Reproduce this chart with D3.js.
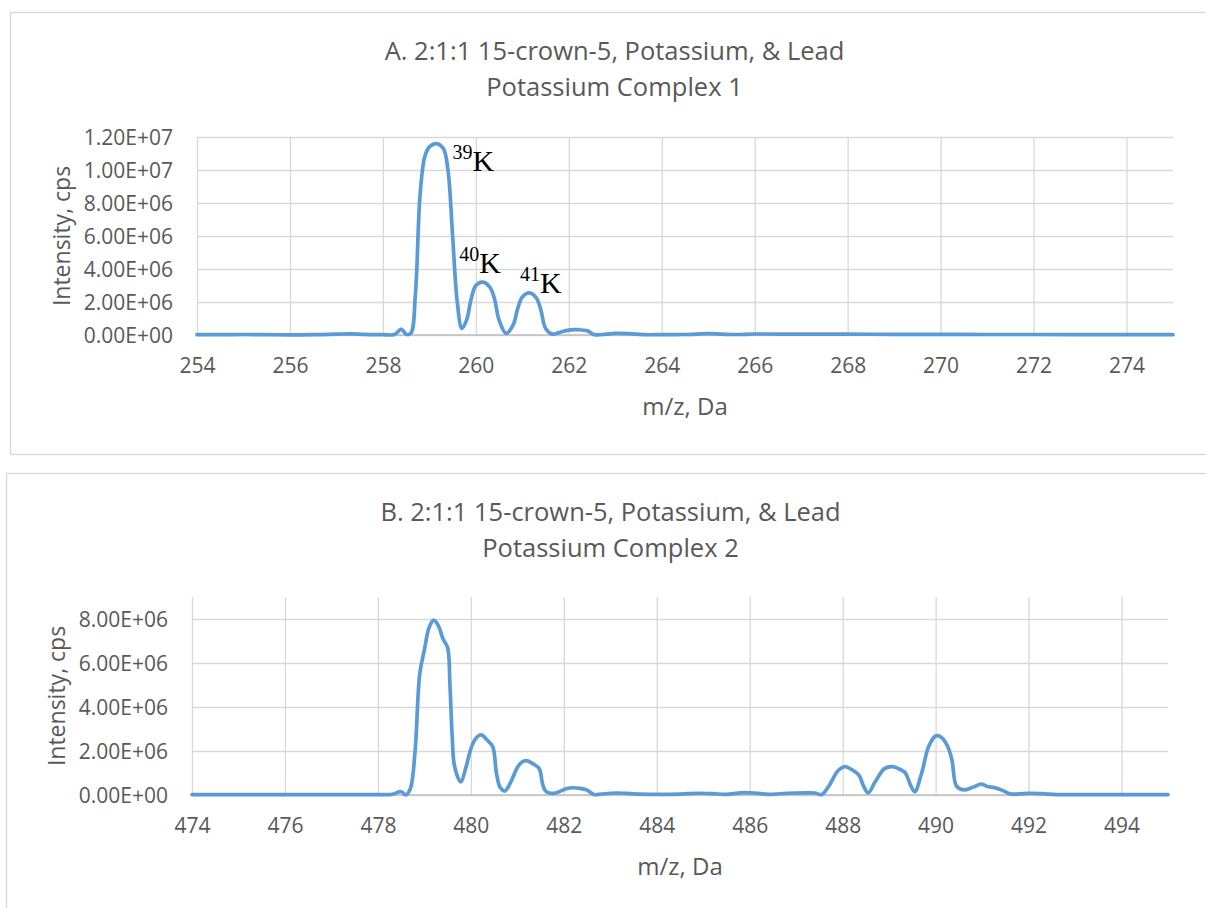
<!DOCTYPE html>
<html>
<head>
<meta charset="utf-8">
<script src="https://cdn.jsdelivr.net/npm/d3@7"></script>
<style>
  body { margin: 0; background: #fff; }
  svg { display: block; }
</style>
</head>
<body>
<svg width="1206" height="908"></svg>
<script>
// panel A: m/z (Da) and intensity (cps)
const mzA = [254.0, 254.5, 255.0, 255.5, 256.0, 256.5, 257.0, 257.3, 257.6, 258.0,
  258.25, 258.4, 258.5, 258.6, 258.7, 258.8, 258.9, 259.0, 259.15, 259.3,
  259.4, 259.5, 259.6, 259.7, 259.8, 259.9, 260.0, 260.15, 260.3, 260.4,
  260.5, 260.65, 260.8, 260.9, 261.0, 261.15, 261.3, 261.4, 261.5, 261.65,
  261.8, 262.0, 262.2, 262.4, 262.55, 262.8, 263.0, 263.3, 263.6, 264.0,
  264.5, 265.0, 265.3, 265.6, 266.0, 267.0, 268.0, 269.0, 270.0, 271.0,
  272.0, 273.0, 274.0, 275.0];
const intA = [2e4, 2e4, 3e4, 2e4, 1e4, 2e4, 5e4, 7e4, 4e4, 2e4,
  3e4, 3.5e5, 5e4, 1e5, 2.5e6, 8.5e6, 1.08e7, 1.14e7, 1.16e7, 1.13e7,
  1.0e7, 6.0e6, 2.0e6, 4e5, 9e5, 2.2e6, 3.0e6, 3.2e6, 2.9e6, 2.2e6,
  9e5, 1e5, 6e5, 1.6e6, 2.3e6, 2.55e6, 2.25e6, 1.5e6, 4e5, 5e4,
  1.5e5, 3e5, 3.2e5, 2.5e5, 2e4, 5e4, 1e5, 8e4, 2e4, 2e4,
  3e4, 8e4, 5e4, 3e4, 6e4, 5e4, 5e4, 4e4, 4e4, 3e4,
  3e4, 2e4, 2e4, 2e4];

// panel B
const mzB = [474.0, 475.0, 476.0, 477.0, 477.5, 478.0, 478.3, 478.5, 478.6, 478.7,
  478.8, 478.9, 479.0, 479.1, 479.2, 479.3, 479.4, 479.5, 479.55, 479.6,
  479.65, 479.78, 479.9, 480.0, 480.1, 480.22, 480.35, 480.47, 480.55, 480.63,
  480.73, 480.85, 481.0, 481.1, 481.2, 481.35, 481.47, 481.55, 481.62, 481.75,
  481.9, 482.05, 482.2, 482.35, 482.5, 482.65, 482.8, 483.0, 483.2, 483.5,
  484.0, 484.5, 484.9, 485.2, 485.5, 485.8, 486.1, 486.4, 486.8, 487.2,
  487.4, 487.55, 487.7, 487.9, 488.05, 488.2, 488.35, 488.45, 488.55, 488.7,
  488.9, 489.07, 489.2, 489.35, 489.45, 489.55, 489.7, 489.85, 490.0, 490.1,
  490.25, 490.35, 490.45, 490.6, 490.8, 490.98, 491.1, 491.3, 491.45, 491.6,
  491.8, 492.0, 492.3, 492.6, 493.0, 494.0, 495.0];
const intB = [2e4, 2e4, 2e4, 2e4, 2e4, 2e4, 3e4, 1.5e5, 0, 3e5,
  2.0e6, 5.5e6, 6.6e6, 7.6e6, 7.95e6, 7.7e6, 7.1e6, 6.7e6, 5.0e6, 2.6e6,
  1.3e6, 6e5, 1.3e6, 2.1e6, 2.55e6, 2.73e6, 2.5e6, 2.2e6, 1.0e6, 3.5e5,
  1.8e5, 5.5e5, 1.25e6, 1.5e6, 1.56e6, 1.4e6, 1.2e6, 4.5e5, 1.5e5, 7e4,
  1.5e5, 2.8e5, 3.3e5, 3.0e5, 2.2e5, 2e4, 4e4, 8e4, 9e4, 5e4,
  3e4, 4e4, 8e4, 6e4, 3e4, 1e5, 9e4, 3e4, 8e4, 1e5,
  9e4, 2e4, 4e5, 1.1e6, 1.29e6, 1.15e6, 9e5, 4e5, 1e5, 6e5,
  1.2e6, 1.29e6, 1.2e6, 1.0e6, 5e5, 1.5e5, 1.0e6, 2.2e6, 2.68e6, 2.65e6,
  2.25e6, 1.6e6, 4e5, 2.3e5, 3.5e5, 5e5, 4e5, 3.2e5, 2e5, 5e4,
  5e4, 8e4, 6e4, 2e4, 2e4, 2e4, 2e4];

const xTicksA = [254, 256, 258, 260, 262, 264, 266, 268, 270, 272, 274];
const yTicksA = [0, 2e6, 4e6, 6e6, 8e6, 1e7, 1.2e7];
const xTicksB = [474, 476, 478, 480, 482, 484, 486, 488, 490, 492, 494];
const yTicksB = [0, 2e6, 4e6, 6e6, 8e6];

// isotope labels: mass number, anchor m/z, anchor intensity
const isoLabels = ['39', '40', '41'];
const isoMz = [259.5, 259.64, 260.95];
const isoInt = [9.96e6, 3.74e6, 2.53e6];

const titlesA = ['A. 2:1:1 15-crown-5, Potassium, & Lead', 'Potassium Complex 1'];
const titlesB = ['B. 2:1:1 15-crown-5, Potassium, & Lead', 'Potassium Complex 2'];

const svg = d3.select('svg');
const textColor = '#595959';
const fontFamily = '"Open Sans", sans-serif';

// 1.20E+07 style, like Excel
const sciFormat = v => {
  const [m, e] = v.toExponential(2).toUpperCase().split('E');
  const sign = e[0] === '-' ? '-' : '+';
  const digits = e.replace(/[+-]/, '').padStart(2, '0');
  return `${m}E${sign}${digits}`;
};

const drawPanel = (props) => {
  const { frame, plot, titles, mz, intensity, xDomain, yDomain, xTicks, yTicks } = props;

  const g = svg.append('g');

  g.append('rect')
    .attr('x', frame.x + 0.5).attr('y', frame.y + 0.5)
    .attr('width', frame.w).attr('height', frame.h)
    .attr('fill', '#fff')
    .attr('stroke', '#d9d9d9').attr('stroke-width', 1.3);

  const cx = frame.x + frame.w / 2;
  g.selectAll('.title').data(titles).enter().append('text')
    .attr('class', 'title')
    .attr('x', cx)
    .attr('y', (d, i) => frame.y + 48 + i * 36)
    .attr('text-anchor', 'middle')
    .style('font-family', fontFamily)
    .style('font-size', '25.5px')
    .attr('fill', textColor)
    .text(d => d);

  const xScale = d3.scaleLinear().domain(xDomain).range([plot.left, plot.right]);
  const yScale = d3.scaleLinear().domain(yDomain).range([plot.bottom, plot.top]);

  // vertical gridlines
  const xAxisG = g.append('g')
    .attr('transform', `translate(0,${plot.bottom})`)
    .call(d3.axisBottom(xScale)
      .tickValues(xTicks)
      .tickSize(-(plot.bottom - plot.top))
      .tickPadding(0)
      .tickFormat(d3.format('d')));
  xAxisG.select('.domain').remove();
  xAxisG.selectAll('line').attr('stroke', '#d9d9d9').attr('stroke-width', 1.3);
  xAxisG.selectAll('text')
    .attr('y', 38).attr('dy', null)
    .style('font-family', fontFamily)
    .style('font-size', '21px')
    .attr('fill', textColor);

  // horizontal gridlines
  const yAxisG = g.append('g')
    .attr('transform', `translate(${plot.left},0)`)
    .call(d3.axisLeft(yScale)
      .tickValues(yTicks)
      .tickSize(-(plot.right - plot.left))
      .tickPadding(24)
      .tickFormat(sciFormat));
  yAxisG.select('.domain').remove();
  yAxisG.selectAll('line').attr('stroke', '#d9d9d9').attr('stroke-width', 1.3);
  yAxisG.selectAll('text')
    .attr('dy', '0.36em')
    .style('font-family', fontFamily)
    .style('font-size', '21px')
    .attr('fill', textColor);

  // axis lines
  g.append('line')
    .attr('x1', plot.left).attr('x2', plot.right)
    .attr('y1', plot.bottom).attr('y2', plot.bottom)
    .attr('stroke', '#bfbfbf').attr('stroke-width', 1.3);

  // axis titles
  g.append('text')
    .attr('x', (plot.left + plot.right) / 2)
    .attr('y', plot.bottom + 80)
    .attr('text-anchor', 'middle')
    .style('font-family', fontFamily)
    .style('font-size', '24px')
    .attr('fill', textColor)
    .text('m/z, Da');

  g.append('text')
    .attr('transform', `translate(${plot.left - 127},${(plot.top + plot.bottom) / 2}) rotate(-90)`)
    .attr('text-anchor', 'middle')
    .style('font-family', fontFamily)
    .style('font-size', '23px')
    .attr('fill', textColor)
    .text('Intensity, cps');

  const points = mz.map((m, i) => [m, intensity[i]]);
  const line = d3.line()
    .x(d => xScale(d[0]))
    .y(d => yScale(d[1]))
    .curve(d3.curveCatmullRom.alpha(0.5));

  g.append('path')
    .datum(points)
    .attr('d', line)
    .attr('fill', 'none')
    .attr('stroke', '#5b9bd5')
    .attr('stroke-width', 3.7)
    .attr('stroke-linejoin', 'round')
    .attr('stroke-linecap', 'round');

  return { g, xScale, yScale };
};

const panelA = drawPanel({
  frame: { x: 10, y: 12, w: 1209, h: 442 },
  plot: { left: 197, right: 1173, top: 137, bottom: 335 },
  titles: titlesA,
  mz: mzA, intensity: intA,
  xDomain: [254, 275], yDomain: [0, 1.2e7],
  xTicks: xTicksA, yTicks: yTicksA
});

drawPanel({
  frame: { x: 6, y: 473, w: 1209, h: 442 },
  plot: { left: 192, right: 1168, top: 597, bottom: 795 },
  titles: titlesB,
  mz: mzB, intensity: intB,
  xDomain: [474, 495], yDomain: [0, 9e6],
  xTicks: xTicksB, yTicks: yTicksB
});

// isotope annotations on panel A
const iso = panelA.g.selectAll('.iso')
  .data(isoLabels)
  .enter().append('text')
    .attr('class', 'iso')
    .attr('x', (d, i) => panelA.xScale(isoMz[i]))
    .attr('y', (d, i) => panelA.yScale(isoInt[i]))
    .style('font-family', '"Liberation Serif", "Times New Roman", serif')
    .attr('fill', '#000');
iso.append('tspan')
  .style('font-size', '20px')
  .attr('dy', -12)
  .text(d => d);
iso.append('tspan')
  .style('font-size', '30px')
  .attr('dy', 12)
  .text('K');
</script>
</body>
</html>
